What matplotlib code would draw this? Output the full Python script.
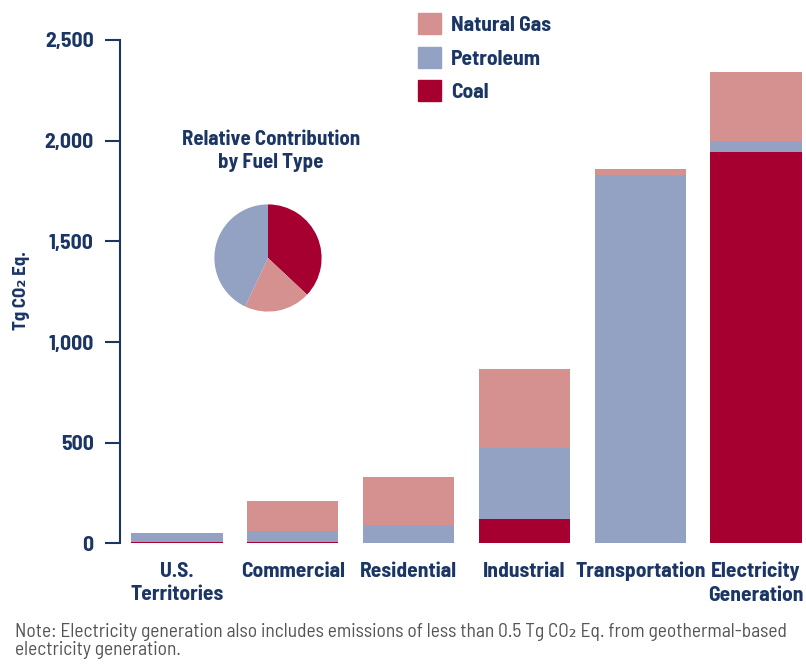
import matplotlib
matplotlib.use('Agg')
import matplotlib.pyplot as plt
import matplotlib.patches as mpatches
import numpy as np

plt.rcParams['font.family'] = ['Barlow Semi Condensed', 'DejaVu Sans']

# Sectors (x tick labels)
sectors = ['U.S.\nTerritories', 'Commercial', 'Residential', 'Industrial',
           'Transportation', 'Electricity\nGeneration']

# Emissions by fuel, Tg CO2 Eq.
coal = [8, 8, 0, 121, 0, 1944]
petroleum = [45, 54, 90, 355, 1832, 52]
natural_gas = [0, 148, 241, 391, 25, 344]

# Pie: relative contribution by fuel type (%)
pie_labels = ['Coal', 'Natural Gas', 'Petroleum']
pie_share = [37, 20, 43]

c_gas = '#d4918f'
c_pet = '#93a2c2'
c_coal = '#a50030'
navy = '#1b3665'

fig = plt.figure(figsize=(8.06, 6.64), dpi=100)
ax = fig.add_axes([0.1489, 0.1815, 0.8511, 0.7583])

x = np.arange(len(sectors))
w = 0.79
coal = np.array(coal)
petroleum = np.array(petroleum)
natural_gas = np.array(natural_gas)
ax.bar(x, coal, w, color=c_coal)
ax.bar(x, petroleum, w, bottom=coal, color=c_pet)
ax.bar(x, natural_gas, w, bottom=coal + petroleum, color=c_gas)

ax.set_xlim(-0.49, 5.43)
ax.set_ylim(0, 2500)
ax.set_yticks([0, 500, 1000, 1500, 2000, 2500])
ax.set_yticklabels(['0', '500', '1,000', '1,500', '2,000', '2,500'],
                   fontsize=15.5, fontweight='bold', color=navy)
ax.set_xticks(x)
ax.set_xticklabels(sectors, fontsize=15.5, fontweight='bold', color=navy,
                   linespacing=1.3)
ax.tick_params(axis='x', length=0, pad=13)
ax.tick_params(axis='y', length=11, width=1.5, color=navy, pad=8)
for s in ['top', 'right', 'bottom']:
    ax.spines[s].set_visible(False)
ax.spines['left'].set_color(navy)
ax.spines['left'].set_linewidth(1.5)

# y axis title
fig.text(21 / 806, 1 - 291 / 664, 'Tg CO\u2082 Eq.', rotation=90, ha='center',
         va='center', fontsize=13.5, fontweight='bold', color=navy)

# legend
handles = [mpatches.Patch(color=c_gas, label='Natural Gas'),
           mpatches.Patch(color=c_pet, label='Petroleum'),
           mpatches.Patch(color=c_coal, label='Coal')]
leg = fig.legend(handles=handles, loc='upper left', bbox_to_anchor=(0.495, 1.009),
                 frameon=False, fontsize=15.5, handlelength=1.05, handleheight=1.1,
                 handletextpad=0.45, labelspacing=0.55)
for t in leg.get_texts():
    t.set_color(navy)
    t.set_fontweight('bold')

# pie inset
cx, cy, r = 268, 258, 67
pax = fig.add_axes([(cx - r) / 806, (664 - cy - r) / 664, 2 * r / 806, 2 * r / 664])
pax.pie(pie_share, colors=[c_coal, c_gas, c_pet], startangle=90,
        counterclock=False)
pax.set_aspect('equal')
fig.text(271 / 806, 1 - 151 / 664, 'Relative Contribution\nby Fuel Type',
         ha='center', va='center', fontsize=15, fontweight='bold',
         color=navy, linespacing=1.3)

fig.text(15 / 806, 1 - 641 / 664,
         'Note: Electricity generation also includes emissions of less than 0.5 Tg CO\u2082 Eq. '
         'from geothermal-based\nelectricity generation.',
         ha='left', va='center', fontsize=14, color='#555555', linespacing=1.05)

fig.savefig('out.png', dpi=100)
